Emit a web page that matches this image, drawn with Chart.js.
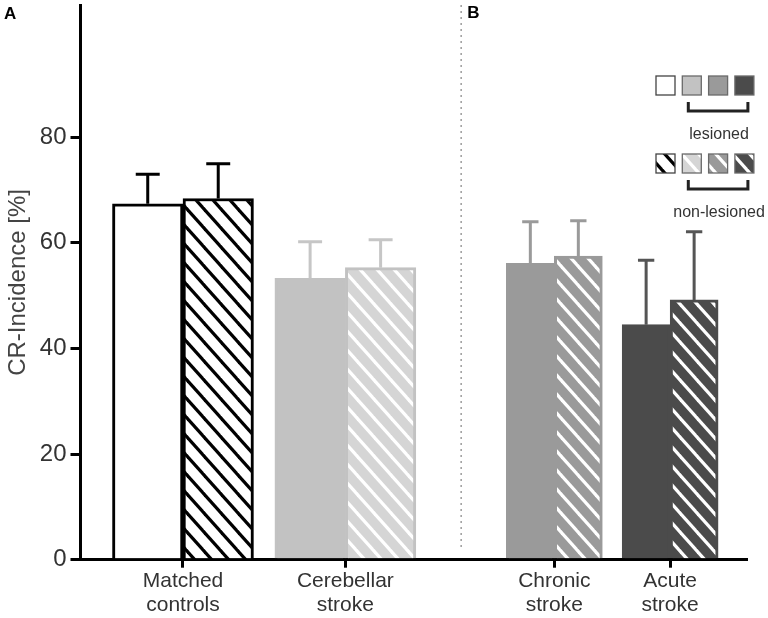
<!DOCTYPE html>
<html>
<head>
<meta charset="utf-8">
<script src="https://cdn.jsdelivr.net/npm/chart.js@4.4.1/dist/chart.umd.min.js"></script>
<style>
  html, body { margin: 0; padding: 0; background: #fff; }
  #wrap { width: 768px; height: 618px; position: relative; }
</style>
</head>
<body>
<div id="wrap"><canvas id="chart"></canvas></div>
<script>
// groups on the x axis (positions in axis units), panel A / B split
const groups = [["Matched", "controls"], ["Cerebellar", "stroke"], ["Chronic", "stroke"], ["Acute", "stroke"]];
const groupPos = [1.54, 3.98, 7.12, 8.86];
const panel = ["A", "A", "B", "B"];
const panelDivider = 5.72;

// CR-incidence in %, mean and upper SD
const lesioned = [67.4, 53.3, 56.1, 44.5];
const lesionedSd = [5.6, 6.9, 7.9, 12.2];
const nonLesioned = [68.4, 55.3, 57.5, 49.2];
const nonLesionedSd = [6.6, 5.3, 6.7, 12.9];
const yTicks = [0, 20, 40, 60, 80];

const barColors = ["#ffffff", "#c2c2c2", "#9a9a9a", "#4b4b4b"];
const hatchBase = ["#ffffff", "#d5d5d5", "#9a9a9a", "#4b4b4b"];
const hatchLine = ["#000000", "#ffffff", "#ffffff", "#ffffff"];
const edgeColors = ["#000000", "#c2c2c2", "#9a9a9a", "#4b4b4b"];
const errColors = ["#000000", "#c6c6c6", "#9a9a9a", "#555555"];

const FONT = "'Liberation Sans', Arial, Helvetica, sans-serif";
Chart.defaults.font.family = FONT;

function hatch(base, line) {
  const w = 17, h = 19;
  const c = document.createElement("canvas");
  c.width = w;
  c.height = h;
  const g = c.getContext("2d");
  g.fillStyle = base;
  g.fillRect(0, 0, w, h);
  g.strokeStyle = line;
  g.lineWidth = 3.2;
  for (let k = -1; k <= 1; k++) {
    g.beginPath();
    g.moveTo(k * w - w, -h);
    g.lineTo(k * w + 2 * w, 2 * h);
    g.stroke();
  }
  return g.createPattern(c, "repeat");
}
const hatchPatterns = hatchBase.map((b, i) => hatch(b, hatchLine[i]));

function panelData(values, p) {
  return groupPos.map((x, i) => ({ x, y: panel[i] === p ? values[i] : null }));
}

function makeSet(label, values, sd, p, fill, thickness) {
  return {
    label,
    data: panelData(values, p),
    sd,
    backgroundColor: fill,
    borderColor: edgeColors,
    borderWidth: 3,
    borderSkipped: "bottom",
    barThickness: thickness,
    skipNull: true
  };
}

const errorBars = {
  id: "errorBars",
  afterDatasetsDraw(chart) {
    const { ctx } = chart;
    const y = chart.scales.y;
    chart.data.datasets.forEach((ds, di) => {
      const meta = chart.getDatasetMeta(di);
      meta.data.forEach((bar, i) => {
        const v = ds.data[i].y;
        if (v == null) return;
        const top = y.getPixelForValue(v + ds.sd[i]);
        const cap = ds.barThickness * 0.34 / 2;
        ctx.save();
        ctx.strokeStyle = errColors[i];
        ctx.lineWidth = 3;
        ctx.beginPath();
        ctx.moveTo(bar.x, bar.y);
        ctx.lineTo(bar.x, top);
        ctx.moveTo(bar.x - cap, top);
        ctx.lineTo(bar.x + cap, top);
        ctx.stroke();
        ctx.restore();
      });
    });
  }
};

const decorations = {
  id: "decorations",
  afterDraw(chart) {
    const { ctx, chartArea } = chart;
    const xd = chart.scales.x.getPixelForValue(panelDivider);
    ctx.save();
    // dotted panel divider
    ctx.strokeStyle = "#7a7a7a";
    ctx.lineWidth = 1.5;
    ctx.setLineDash([1.5, 4.5]);
    ctx.beginPath();
    ctx.moveTo(xd, chartArea.top);
    ctx.lineTo(xd, chartArea.bottom - 12);
    ctx.stroke();
    ctx.setLineDash([]);

    // panel letters
    ctx.fillStyle = "#000";
    ctx.font = "bold 17px " + FONT;
    ctx.textAlign = "left";
    ctx.textBaseline = "alphabetic";
    ctx.fillText("A", 4, 19);
    ctx.fillText("B", xd + 6, 18);

    // legend: four solid swatches, four hatched swatches
    const x0 = chartArea.right - 90;
    const step = 26.3;
    const size = 19;
    const rows = [
      { top: 76, fills: barColors, text: "lesioned", textY: 139 },
      { top: 154, fills: hatchPatterns, text: "non-lesioned", textY: 217 }
    ];
    rows.forEach((r) => {
      r.fills.forEach((f, i) => {
        const sx = x0 + i * step;
        ctx.fillStyle = f;
        ctx.fillRect(sx, r.top, size, size);
        ctx.strokeStyle = i === 0 ? "#444" : "#6a6a6a";
        ctx.lineWidth = 1.3;
        ctx.strokeRect(sx, r.top, size, size);
      });
      const bx1 = x0 + step + 6;
      const bx2 = x0 + 3 * step + size - 6;
      const by = r.top + size + 16;
      ctx.strokeStyle = "#222";
      ctx.lineWidth = 3;
      ctx.beginPath();
      ctx.moveTo(bx1, by - 9);
      ctx.lineTo(bx1, by);
      ctx.lineTo(bx2, by);
      ctx.lineTo(bx2, by - 9);
      ctx.stroke();
      ctx.fillStyle = "#333";
      ctx.font = "16px " + FONT;
      ctx.textAlign = "center";
      ctx.fillText(r.text, (bx1 + bx2) / 2 + 1, r.textY);
    });
    ctx.restore();
  }
};

new Chart(document.getElementById("chart"), {
  type: "bar",
  data: {
    datasets: [
      makeSet("lesioned", lesioned, lesionedSd, "A", barColors, 70.5),
      makeSet("non-lesioned", nonLesioned, nonLesionedSd, "A", hatchPatterns, 70.5),
      makeSet("lesioned", lesioned, lesionedSd, "B", barColors, 48),
      makeSet("non-lesioned", nonLesioned, nonLesionedSd, "B", hatchPatterns, 48)
    ]
  },
  options: {
    responsive: true,
    maintainAspectRatio: false,
    animation: false,
    layout: { padding: { left: 0, right: 22, top: 5, bottom: 0 } },
    plugins: { legend: { display: false }, tooltip: { enabled: false } },
    scales: {
      x: {
        type: "linear",
        min: 0,
        max: 10,
        offset: false,
        stacked: false,
        afterBuildTicks: (s) => { s.ticks = groupPos.map((v) => ({ value: v })); },
        border: { display: true, color: "#000", width: 3 },
        grid: { offset: false, drawOnChartArea: false, color: "#000", lineWidth: 3, tickLength: 8 },
        ticks: {
          autoSkip: false,
          maxRotation: 0,
          color: "#333",
          padding: 1,
          font: { size: 21, lineHeight: 1.15 },
          callback: (v, i) => groups[i]
        }
      },
      y: {
        min: 0,
        max: 105,
        stacked: false,
        afterBuildTicks: (s) => { s.ticks = yTicks.map((v) => ({ value: v })); },
        border: { display: true, color: "#000", width: 3 },
        grid: { drawOnChartArea: false, color: "#000", lineWidth: 3, tickLength: 10 },
        ticks: { color: "#333", padding: 4, font: { size: 24, lineHeight: 0.1 } },
        title: {
          display: true,
          text: "CR-Incidence [%]",
          color: "#444",
          font: { size: 24 },
          padding: { top: 4, bottom: 3 }
        }
      }
    }
  },
  plugins: [errorBars, decorations]
});
</script>
</body>
</html>
